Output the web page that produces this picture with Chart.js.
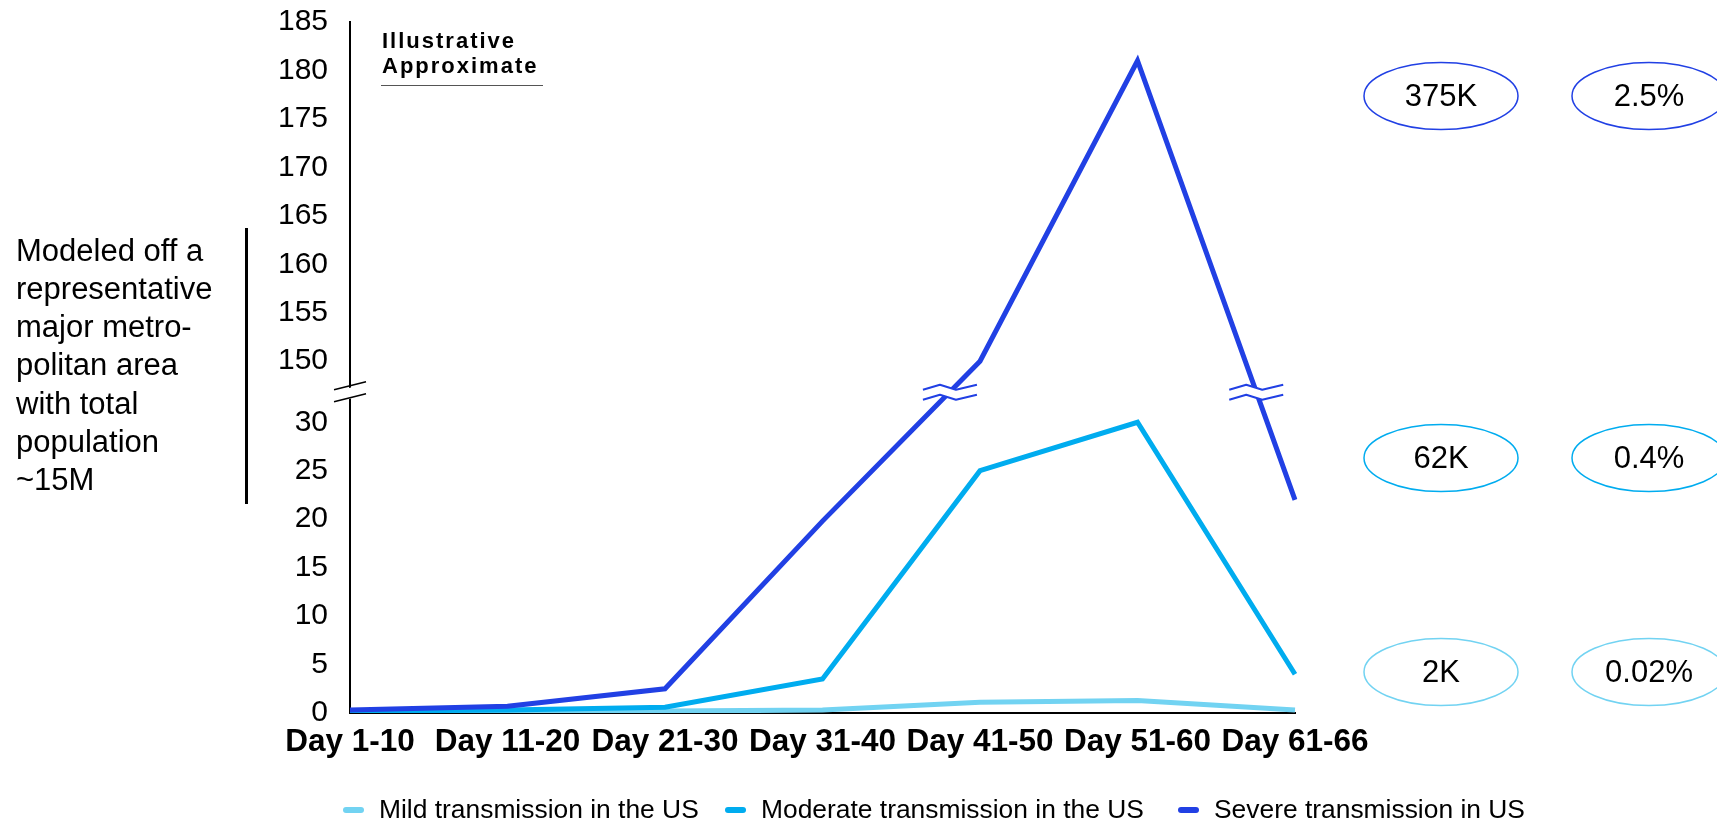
<!DOCTYPE html>
<html>
<head>
<meta charset="utf-8">
<title>Modeled transmission scenarios</title>
<script src="https://cdn.jsdelivr.net/npm/chart.js@4.4.1/dist/chart.umd.min.js"></script>
<style>
  html, body { margin: 0; padding: 0; background: #ffffff; }
  #wrap { width: 1717px; height: 824px; position: relative; }
  canvas { display: block; }
</style>
</head>
<body>
<div id="wrap"><canvas id="chart" width="1717" height="824"></canvas></div>
<script>
// ---- data ----
const categories = ['Day 1-10', 'Day 11-20', 'Day 21-30', 'Day 31-40', 'Day 41-50', 'Day 51-60', 'Day 61-66'];
const mildValues = [0.1, 0.1, 0.2, 0.3, 1.1, 1.3, 0.3];
const moderateValues = [0.2, 0.3, 0.6, 3.5, 25, 30, 4];
const severeValues = [0.3, 0.7, 2.5, 19.8, 150, 181, 22];
const seriesNames = ['Mild transmission in the US', 'Moderate transmission in the US', 'Severe transmission in US'];
const seriesColors = ['#72d3f2', '#00acef', '#2140e4'];
const lowerTicks = [0, 5, 10, 15, 20, 25, 30];
const upperTicks = [150, 155, 160, 165, 170, 175, 180, 185];
const totalCases = ['2K', '62K', '375K'];
const caseShares = ['0.02%', '0.4%', '2.5%'];
const noteLines = ['Modeled off a', 'representative', 'major metro-', 'politan area', 'with total', 'population', '~15M'];
const stampLines = ['Illustrative', 'Approximate'];

// ---- broken value axis: 0–30 and 150–185 share one scale with a small gap ----
const LOWER_MAX = lowerTicks[lowerTicks.length - 1];
const UPPER_MIN = upperTicks[0];
const BREAK_GAP = 6.3;
function toSegment(v) {
  return v >= UPPER_MIN ? v - UPPER_MIN + LOWER_MAX + BREAK_GAP : v;
}

class BrokenLinearScale extends Chart.LinearScale {
  getPixelForValue(value) {
    return super.getPixelForValue(toSegment(value));
  }
  buildTicks() {
    return lowerTicks.concat(upperTicks).map(v => ({ value: v }));
  }
}
BrokenLinearScale.id = 'brokenLinear';
BrokenLinearScale.defaults = Chart.LinearScale.defaults;
Chart.register(BrokenLinearScale);

const FONT = '"Liberation Sans", Arial, Helvetica, sans-serif';

// ---- extra drawing: axis/line breaks, notes, callouts, legend ----
const decorations = {
  id: 'decorations',
  afterDraw(chart) {
    const { ctx, chartArea } = chart;
    const yScale = chart.scales.y;
    const yBreak = (yScale.getPixelForValue(LOWER_MAX) + yScale.getPixelForValue(UPPER_MIN)) / 2;

    // axis break
    const ax = chartArea.left;
    ctx.save();
    ctx.fillStyle = '#ffffff';
    ctx.beginPath();
    ctx.moveTo(ax - 4, yBreak - 3);
    ctx.lineTo(ax + 4, yBreak - 5);
    ctx.lineTo(ax + 4, yBreak + 6);
    ctx.lineTo(ax - 4, yBreak + 8);
    ctx.closePath();
    ctx.fill();
    ctx.strokeStyle = '#000000';
    ctx.lineWidth = 1.5;
    ctx.beginPath();
    ctx.moveTo(ax - 16, yBreak - 2); ctx.lineTo(ax + 16, yBreak - 10);
    ctx.moveTo(ax - 16, yBreak + 10); ctx.lineTo(ax + 16, yBreak + 2);
    ctx.stroke();
    ctx.restore();

    // breaks on the lines that cross the gap
    chart.data.datasets.forEach((ds, di) => {
      const meta = chart.getDatasetMeta(di);
      for (let i = 0; i < ds.data.length - 1; i++) {
        const a = ds.data[i], b = ds.data[i + 1];
        const crosses = (a <= LOWER_MAX && b >= UPPER_MIN) || (a >= UPPER_MIN && b <= LOWER_MAX);
        if (!crosses) continue;
        const p0 = meta.data[i], p1 = meta.data[i + 1];
        const t = (yBreak - p0.y) / (p1.y - p0.y);
        const cx = p0.x + t * (p1.x - p0.x);
        const dx = [-27, -10, 6, 27];
        const dy = [0, -5, 0, -5];
        const up = dx.map((d, k) => [cx + d, yBreak - 2 + dy[k]]);
        const lo = dx.map((d, k) => [cx + d, yBreak + 8 + dy[k]]);
        ctx.save();
        ctx.fillStyle = '#ffffff';
        ctx.beginPath();
        up.forEach((p, k) => k ? ctx.lineTo(p[0], p[1]) : ctx.moveTo(p[0], p[1]));
        lo.slice().reverse().forEach(p => ctx.lineTo(p[0], p[1]));
        ctx.closePath();
        ctx.fill();
        ctx.strokeStyle = ds.borderColor;
        ctx.lineWidth = 2;
        ctx.lineJoin = 'round';
        [up, lo].forEach(pts => {
          ctx.beginPath();
          pts.forEach((p, k) => k ? ctx.lineTo(p[0], p[1]) : ctx.moveTo(p[0], p[1]));
          ctx.stroke();
        });
        ctx.restore();
      }
    });

    // stamp
    ctx.save();
    ctx.fillStyle = '#000000';
    ctx.font = 'bold 22px ' + FONT;
    ctx.letterSpacing = '2px';
    ctx.textBaseline = 'alphabetic';
    ctx.textAlign = 'left';
    ctx.fillText(stampLines[0], 382, 48);
    ctx.fillText(stampLines[1], 382, 73);
    ctx.letterSpacing = '0px';
    ctx.strokeStyle = '#555555';
    ctx.lineWidth = 1;
    ctx.beginPath();
    ctx.moveTo(381, 85.5); ctx.lineTo(543, 85.5);
    ctx.stroke();
    ctx.restore();

    // population note with its bar
    ctx.save();
    ctx.fillStyle = '#000000';
    ctx.font = '31px ' + FONT;
    ctx.textBaseline = 'middle';
    ctx.textAlign = 'left';
    noteLines.forEach((s, i) => ctx.fillText(s, 16, 252 + i * 38.3));
    ctx.fillRect(245, 228, 3, 276);
    ctx.restore();

    // callout ellipses, one pair per scenario
    const calloutY = [672, 458, 96];
    ctx.save();
    ctx.font = '31px ' + FONT;
    ctx.textAlign = 'center';
    ctx.textBaseline = 'middle';
    for (let i = 0; i < totalCases.length; i++) {
      [[1441, totalCases[i]], [1649, caseShares[i]]].forEach(([cx, txt]) => {
        ctx.strokeStyle = seriesColors[i];
        ctx.lineWidth = 1.5;
        ctx.beginPath();
        ctx.ellipse(cx, calloutY[i], 77, 33.5, 0, 0, Math.PI * 2);
        ctx.stroke();
        ctx.fillStyle = '#000000';
        ctx.fillText(txt, cx, calloutY[i] + 1);
      });
    }
    ctx.restore();

    // legend
    const legendX = [343, 725, 1178];
    const ly = 810;
    ctx.save();
    ctx.font = '26.4px ' + FONT;
    ctx.textBaseline = 'middle';
    ctx.textAlign = 'left';
    chart.data.datasets.forEach((ds, i) => {
      const x = legendX[i];
      ctx.strokeStyle = ds.borderColor;
      ctx.lineWidth = 6;
      ctx.lineCap = 'round';
      ctx.beginPath();
      ctx.moveTo(x + 3, ly); ctx.lineTo(x + 18, ly);
      ctx.stroke();
      ctx.fillStyle = '#000000';
      ctx.fillText(ds.label, x + 36, ly + 1);
    });
    ctx.restore();
  }
};

const seriesValues = [mildValues, moderateValues, severeValues];
const drawOrder = [3, 2, 1];

new Chart(document.getElementById('chart'), {
  type: 'line',
  data: {
    labels: categories,
    datasets: seriesValues.map((vals, i) => ({
      label: seriesNames[i],
      data: vals,
      borderColor: seriesColors[i],
      backgroundColor: seriesColors[i],
      borderWidth: 5,
      pointRadius: 0,
      pointHoverRadius: 0,
      tension: 0,
      fill: false,
      order: drawOrder[i]
    }))
  },
  options: {
    responsive: false,
    animation: false,
    devicePixelRatio: 1,
    layout: { padding: { left: 0, top: 22, right: 422, bottom: 61 } },
    plugins: {
      legend: { display: false },
      tooltip: { enabled: false },
      title: { display: false }
    },
    scales: {
      x: {
        type: 'category',
        offset: false,
        grid: { display: false, drawTicks: false },
        border: { display: true, color: '#000000', width: 2 },
        ticks: {
          autoSkip: false, maxRotation: 0, minRotation: 0, padding: 10,
          color: '#000000', font: { family: FONT, size: 31.5, weight: 'bold' }
        },
        afterFit(scale) { scale.height = 50; }
      },
      y: {
        type: 'brokenLinear',
        min: 0,
        max: toSegment(upperTicks[upperTicks.length - 1]),
        grid: { display: false, drawTicks: true, tickLength: 22 },
        border: { display: true, color: '#000000', width: 2 },
        ticks: {
          autoSkip: false, padding: 0, color: '#000000',
          font: { family: FONT, size: 30 },
          callback: v => String(v)
        },
        afterFit(scale) { scale.width = 350; }
      }
    }
  },
  plugins: [decorations]
});
</script>
</body>
</html>
